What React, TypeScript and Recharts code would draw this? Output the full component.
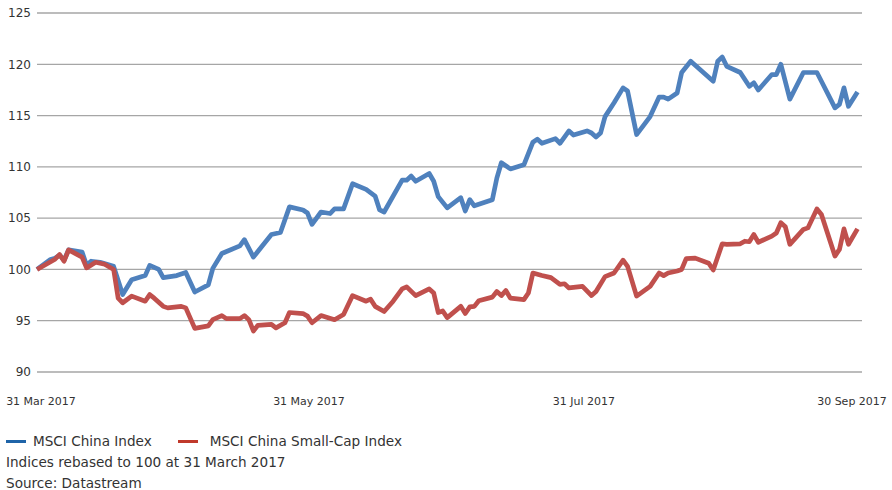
import React from "react";
import { LineChart, Line, XAxis, YAxis, CartesianGrid } from "recharts";

// x = calendar days since 31 Mar 2017
const chinaDays = [
  0, 3, 4, 5, 6, 7, 10, 11, 12, 14, 17, 19, 21, 24, 25, 27, 28, 31, 33, 35,
  38, 39, 41, 45, 46, 48, 50, 52, 54, 56, 59, 60, 61, 63, 65, 66, 68, 70, 73,
  75, 76, 77, 81, 82, 83, 84, 87, 88, 89, 91, 94, 95, 96, 97, 101, 102, 103,
  105, 108, 110, 111, 112, 115, 116, 118, 119, 122, 123, 124, 125, 126, 128,
  130, 131, 133, 136, 138, 139, 140, 142, 143, 145, 150, 151, 152, 153, 156,
  158, 159, 160, 163, 164, 165, 167, 170, 173, 174, 177, 178, 179, 180, 182,
];
const chinaValues = [
  100, 100.97, 101.1, 101.4, 100.9, 101.9, 101.7, 100.4, 100.8, 100.7, 100.3,
  97.55, 99.0, 99.4, 100.4, 100.0, 99.2, 99.4, 99.7, 97.8, 98.5, 100.1, 101.55,
  102.3, 102.9, 101.2, 102.3, 103.4, 103.6, 106.1, 105.8, 105.5, 104.4, 105.6,
  105.45, 105.9, 105.9, 108.35, 107.8, 107.15, 105.8, 105.6, 108.7, 108.7,
  109.1, 108.6, 109.35, 108.6, 107.1, 106.0, 107.0, 105.7, 106.8, 106.2, 106.8,
  108.9, 110.4, 109.8, 110.2, 112.4, 112.7, 112.3, 112.75, 112.3, 113.5, 113.1,
  113.5, 113.3, 112.9, 113.3, 114.9, 116.25, 117.7, 117.4, 113.15, 114.9, 116.8,
  116.8, 116.6, 117.2, 119.2, 120.3, 118.35, 120.3, 120.7, 119.8, 119.2, 117.85,
  118.2, 117.5, 119.0, 119.0, 120.0, 116.6, 119.2, 119.2, 118.35, 115.75, 116.1,
  117.7, 115.9, 117.3,
];

const smallCapDays = [
  0, 4, 5, 6, 7, 10, 11, 13, 15, 17, 18, 19, 21, 24, 25, 26, 28, 29, 32, 33,
  35, 38, 39, 41, 42, 45, 46, 47, 48, 49, 52, 53, 55, 56, 59, 60, 61, 63, 66,
  68, 70, 73, 74, 75, 77, 79, 81, 82, 84, 87, 88, 89, 90, 91, 94, 95, 96, 97,
  98, 101, 102, 103, 104, 105, 108, 109, 110, 112, 114, 116, 117, 118, 121,
  123, 124, 126, 128, 130, 131, 133, 136, 138, 139, 140, 142, 143, 144, 146,
  149, 150, 152, 153, 156, 157, 158, 159, 160, 163, 164, 165, 166, 167, 170,
  171, 173, 174, 177, 178, 179, 180, 182,
];
const smallCapValues = [
  100, 101.0, 101.45, 100.8, 101.9, 101.2, 100.15, 100.7, 100.5, 100.0, 97.2,
  96.75, 97.4, 96.9, 97.55, 97.2, 96.4, 96.25, 96.4, 96.25, 94.25, 94.5, 95.1,
  95.5, 95.2, 95.2, 95.5, 95.1, 94.0, 94.55, 94.65, 94.3, 94.8, 95.8, 95.7,
  95.45, 94.8, 95.5, 95.1, 95.6, 97.45, 96.9, 97.1, 96.4, 95.9, 96.9, 98.1,
  98.3, 97.45, 98.1, 97.7, 95.8, 95.95, 95.3, 96.4, 95.7, 96.35, 96.4, 96.95,
  97.3, 97.85, 97.45, 97.95, 97.2, 97.05, 97.7, 99.65, 99.4, 99.2, 98.55, 98.6,
  98.2, 98.35, 97.45, 97.85, 99.3, 99.65, 100.9, 100.3, 97.4, 98.35, 99.65,
  99.4, 99.65, 99.85, 100.0, 101.05, 101.1, 100.6, 99.95, 102.5, 102.45, 102.5,
  102.75, 102.7, 103.4, 102.65, 103.25, 103.55, 104.55, 104.15, 102.45, 103.9,
  104.05, 105.9, 105.35, 101.3, 101.95, 103.95, 102.45, 103.95,
];

const xTicks = [0, 61, 122, 183];
const xTickLabels = ["31 Mar 2017", "31 May 2017", "31 Jul 2017", "30 Sep 2017"];
const yTicks = [90, 95, 100, 105, 110, 115, 120, 125];

const chinaData = chinaDays.map((d, i) => ({ day: d, value: chinaValues[i] }));
const smallCapData = smallCapDays.map((d, i) => ({ day: d, value: smallCapValues[i] }));

const FONT = "'DejaVu Sans', sans-serif";
const TEXT = "#333333";

function XTick(props: any) {
  const { x, y, payload } = props;
  const idx = xTicks.indexOf(payload.value);
  // last label is pulled in so it stays on the page
  const tx = idx === xTicks.length - 1 ? x - 10 : idx === 0 ? x + 4 : x - 3;
  return (
    <text x={tx} y={y} dy={25} textAnchor="middle" fontSize={11} fill={TEXT} fontFamily={FONT}>
      {xTickLabels[idx]}
    </text>
  );
}

export default function App() {
  return (
    <div style={{ position: "absolute", left: 0, top: 0, width: 892, height: 490, background: "#fff", fontFamily: FONT, color: TEXT }}>
      <LineChart
        width={892}
        height={420}
        margin={{ top: 13, right: 30, left: 0, bottom: 0 }}
      >
        <CartesianGrid horizontal vertical={false} stroke="#a6a6a6" strokeWidth={1.3} />
        <XAxis
          dataKey="day"
          type="number"
          domain={[0, 183]}
          ticks={xTicks}
          height={48}
          tickLine={false}
          axisLine={false}
          tick={<XTick />}
          allowDuplicatedCategory={false}
        />
        <YAxis
          type="number"
          domain={[90, 125]}
          ticks={yTicks}
          width={37}
          tickLine={false}
          axisLine={false}
          tickSize={0}
          tickMargin={6}
          tick={{ fill: TEXT, fontSize: 12, fontFamily: FONT }}
        />
        <Line
          data={chinaData}
          dataKey="value"
          name="MSCI China Index"
          stroke="#4f81bd"
          strokeWidth={4.7}
          dot={false}
          isAnimationActive={false}
          strokeLinejoin="round"
        />
        <Line
          data={smallCapData}
          dataKey="value"
          name="MSCI China Small-Cap Index"
          stroke="#c0504d"
          strokeWidth={4.7}
          dot={false}
          isAnimationActive={false}
          strokeLinejoin="round"
        />
      </LineChart>
      <div style={{ position: "absolute", left: 6, top: 431, fontSize: 13.6, lineHeight: "21px", whiteSpace: "nowrap" }}>
        <div style={{ display: "flex", alignItems: "center" }}>
          <span style={{ display: "inline-block", width: 20, height: 3, background: "#1f64a8", marginRight: 7 }} />
          <span>MSCI China Index</span>
          <span style={{ display: "inline-block", width: 20, height: 3, background: "#c0392b", marginLeft: 26, marginRight: 12 }} />
          <span>MSCI China Small-Cap Index</span>
        </div>
        <div>Indices rebased to 100 at 31 March 2017</div>
        <div>Source: Datastream</div>
      </div>
    </div>
  );
}
